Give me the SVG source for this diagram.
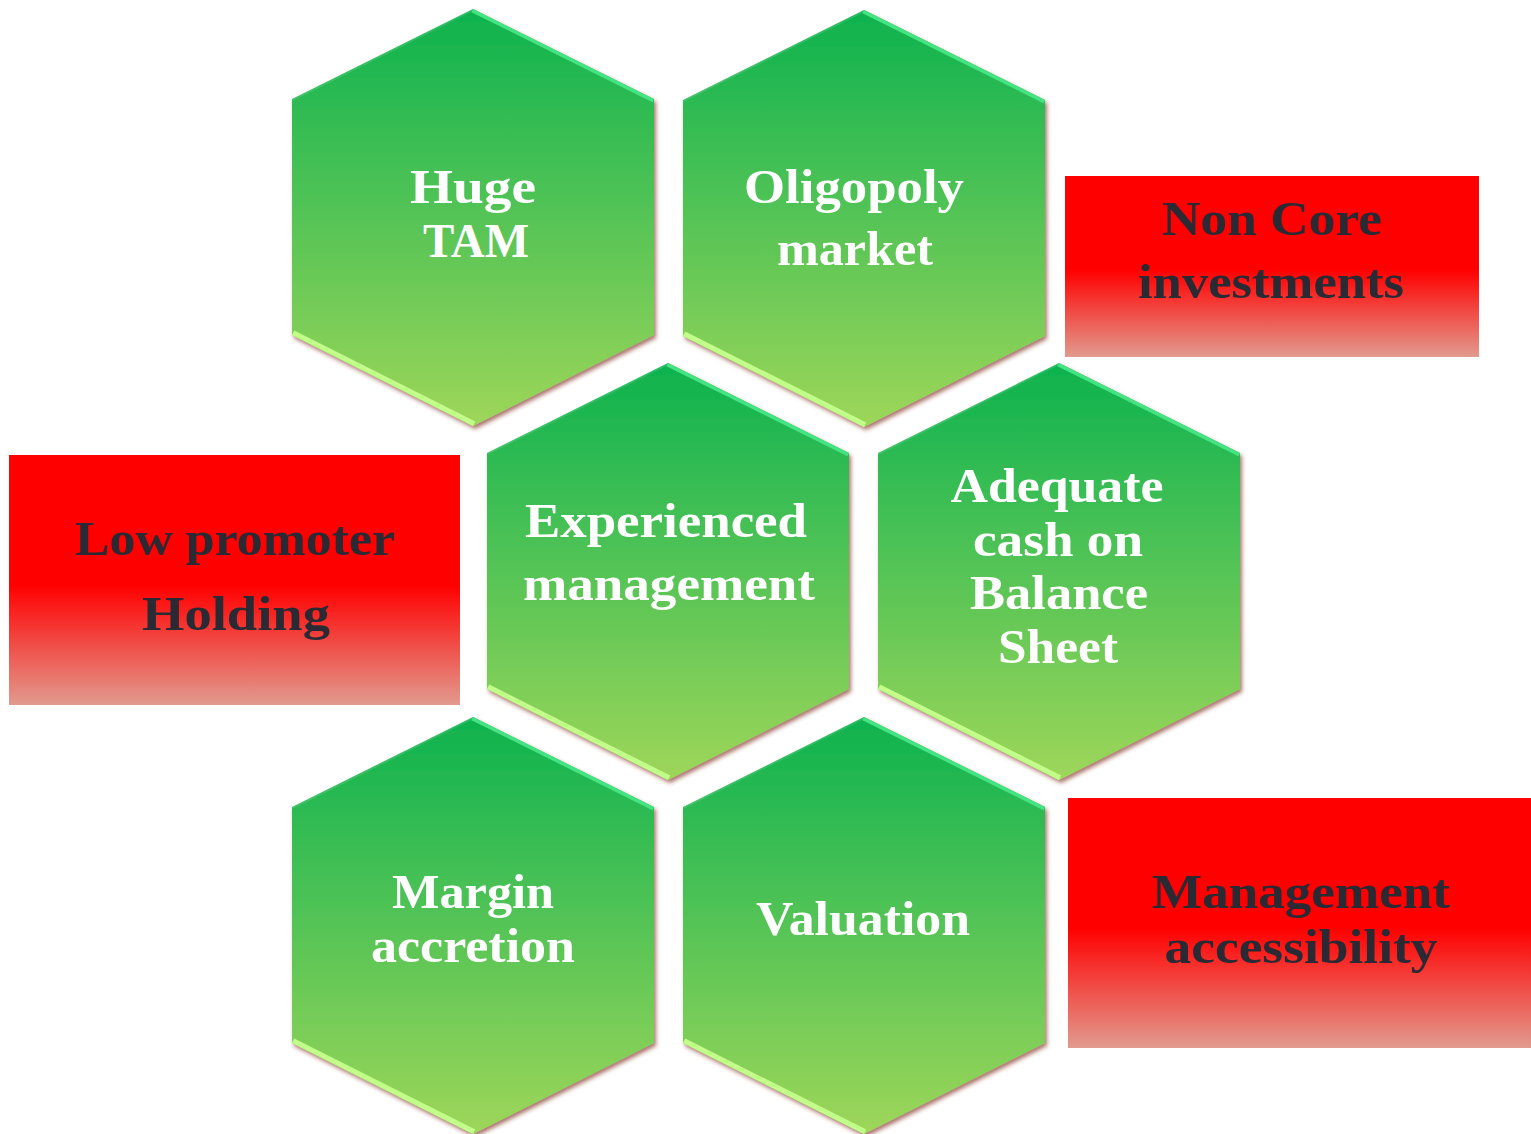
<svg xmlns="http://www.w3.org/2000/svg" xmlns:xlink="http://www.w3.org/1999/xlink" width="1531" height="1134" viewBox="0 0 1531 1134">
  <style>
    .hex-label { font-family: "Liberation Serif", "DejaVu Serif", serif; font-weight: bold; font-size: 48px; fill: #FFFFFF; text-anchor: middle; }
    .risk-label { font-family: "Liberation Serif", "DejaVu Serif", serif; font-weight: bold; font-size: 48px; fill: #2A2A35; text-anchor: middle; }
    .hex-body { fill: url(#greenFill); filter: url(#hexShadow); }
    .edge-light { stroke: #46E385; stroke-width: 7; clip-path: url(#hexClip); }
    .edge-lime { stroke: #C2FF8A; stroke-width: 10; clip-path: url(#hexClip); }
    .edge-soft { stroke: #FFFFFF; stroke-opacity: 0.12; stroke-width: 4; clip-path: url(#hexClip); }
    .risk-box { fill: url(#redFill); }
  </style>
  <defs>
    <!-- hexagon outline, centred horizontally on 0, top vertex at y=0 -->
    <polygon id="hexShape" points="0,0 181,90 181,326 0,417 -181,326 -181,90"/>
    <clipPath id="hexClip" clipPathUnits="userSpaceOnUse">
      <polygon points="0,0 181,90 181,326 0,417 -181,326 -181,90"/>
    </clipPath>
    <linearGradient id="greenFill" x1="0" y1="0" x2="0" y2="1">
      <stop offset="0" stop-color="#0DB24F"/>
      <stop offset="0.5" stop-color="#55C456"/>
      <stop offset="1" stop-color="#9ED65A"/>
    </linearGradient>
    <linearGradient id="redFill" x1="0" y1="0" x2="0" y2="1">
      <stop offset="0" stop-color="#FF0000"/>
      <stop offset="0.52" stop-color="#FF0000"/>
      <stop offset="1" stop-color="#E29A8E"/>
    </linearGradient>
    <filter id="hexShadow" x="-10%" y="-10%" width="120%" height="120%">
      <feDropShadow dx="2" dy="3" stdDeviation="2" flood-color="#7E2A1C" flood-opacity="0.65"/>
    </filter>
  </defs>

  <rect width="1531" height="1134" fill="#FFFFFF"/>

  <g id="connectors"/>

  <!-- hexagon tiles -->
  <g id="node-huge-tam" transform="translate(473,9)">
    <use href="#hexShape" class="hex-body"/>
    <line class="edge-soft" x1="-181" y1="90" x2="0" y2="0"/>
    <line class="edge-light" x1="0" y1="0" x2="181" y2="90"/>
    <line class="edge-lime" x1="-181" y1="326" x2="0" y2="417"/>
    <text class="hex-label" x="0" y="194" textLength="126" lengthAdjust="spacingAndGlyphs">Huge</text>
    <text class="hex-label" x="3" y="248" textLength="106" lengthAdjust="spacingAndGlyphs">TAM</text>
  </g>

  <g id="node-oligopoly-market" transform="translate(864,10)">
    <use href="#hexShape" class="hex-body"/>
    <line class="edge-soft" x1="-181" y1="90" x2="0" y2="0"/>
    <line class="edge-light" x1="0" y1="0" x2="181" y2="90"/>
    <line class="edge-lime" x1="-181" y1="326" x2="0" y2="417"/>
    <text class="hex-label" x="-10" y="193" textLength="220" lengthAdjust="spacingAndGlyphs">Oligopoly</text>
    <text class="hex-label" x="-9" y="255" textLength="156" lengthAdjust="spacingAndGlyphs">market</text>
  </g>

  <g id="node-experienced-management" transform="translate(668,363)">
    <use href="#hexShape" class="hex-body"/>
    <line class="edge-soft" x1="-181" y1="90" x2="0" y2="0"/>
    <line class="edge-light" x1="0" y1="0" x2="181" y2="90"/>
    <line class="edge-lime" x1="-181" y1="326" x2="0" y2="417"/>
    <text class="hex-label" x="-2" y="174" textLength="282" lengthAdjust="spacingAndGlyphs">Experienced</text>
    <text class="hex-label" x="1" y="237" textLength="292" lengthAdjust="spacingAndGlyphs">management</text>
  </g>

  <g id="node-adequate-cash" transform="translate(1059,363)">
    <use href="#hexShape" class="hex-body"/>
    <line class="edge-soft" x1="-181" y1="90" x2="0" y2="0"/>
    <line class="edge-light" x1="0" y1="0" x2="181" y2="90"/>
    <line class="edge-lime" x1="-181" y1="326" x2="0" y2="417"/>
    <text class="hex-label" x="-2" y="139" textLength="213" lengthAdjust="spacingAndGlyphs">Adequate</text>
    <text class="hex-label" x="-1" y="193" textLength="170" lengthAdjust="spacingAndGlyphs">cash on</text>
    <text class="hex-label" x="0" y="246" textLength="178" lengthAdjust="spacingAndGlyphs">Balance</text>
    <text class="hex-label" x="-1" y="300" textLength="120" lengthAdjust="spacingAndGlyphs">Sheet</text>
  </g>

  <g id="node-margin-accretion" transform="translate(473,717)">
    <use href="#hexShape" class="hex-body"/>
    <line class="edge-soft" x1="-181" y1="90" x2="0" y2="0"/>
    <line class="edge-light" x1="0" y1="0" x2="181" y2="90"/>
    <line class="edge-lime" x1="-181" y1="326" x2="0" y2="417"/>
    <text class="hex-label" x="0" y="191" textLength="162" lengthAdjust="spacingAndGlyphs">Margin</text>
    <text class="hex-label" x="0" y="245" textLength="204" lengthAdjust="spacingAndGlyphs">accretion</text>
  </g>

  <g id="node-valuation" transform="translate(864,717)">
    <use href="#hexShape" class="hex-body"/>
    <line class="edge-soft" x1="-181" y1="90" x2="0" y2="0"/>
    <line class="edge-light" x1="0" y1="0" x2="181" y2="90"/>
    <line class="edge-lime" x1="-181" y1="326" x2="0" y2="417"/>
    <text class="hex-label" x="-1" y="218" textLength="214" lengthAdjust="spacingAndGlyphs">Valuation</text>
  </g>

  <!-- risk boxes -->
  <g id="node-non-core-investments">
    <rect class="risk-box" x="1065" y="176" width="414" height="181"/>
    <text class="risk-label" x="1272" y="235" textLength="220" lengthAdjust="spacingAndGlyphs">Non Core</text>
    <text class="risk-label" x="1271" y="298" textLength="266" lengthAdjust="spacingAndGlyphs">investments</text>
  </g>

  <g id="node-low-promoter-holding">
    <rect class="risk-box" x="9" y="455" width="451" height="250"/>
    <text class="risk-label" x="235" y="555" textLength="320" lengthAdjust="spacingAndGlyphs">Low promoter</text>
    <text class="risk-label" x="236" y="630" textLength="188" lengthAdjust="spacingAndGlyphs">Holding</text>
  </g>

  <g id="node-management-accessibility">
    <rect class="risk-box" x="1068" y="798" width="463" height="250"/>
    <text class="risk-label" x="1301" y="908" textLength="298" lengthAdjust="spacingAndGlyphs">Management</text>
    <text class="risk-label" x="1301" y="963" textLength="273" lengthAdjust="spacingAndGlyphs">accessibility</text>
  </g>
</svg>
